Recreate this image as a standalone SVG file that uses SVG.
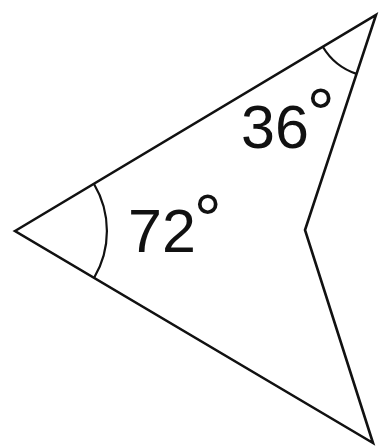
<svg xmlns="http://www.w3.org/2000/svg" width="379" height="448" viewBox="0 0 379 448">
<style>
.edge{fill:none;stroke:#111;stroke-width:2.6;stroke-linejoin:miter}
.arc{fill:none;stroke:#111;stroke-width:2.2}
.lbl{font-family:"Liberation Sans",Arial,sans-serif;font-size:61px;fill:#111}
.deg{font-size:70px}
</style>
<rect width="379" height="448" fill="#fff"/>
<g id="connectors">
<path class="edge" d="M15,231 L376,15 L305,230 L373,443 Z"/>
</g>
<g id="angle-left">
<path class="arc" d="M94,184 A92,92 0 0 1 94,278"/>
<text class="lbl" x="128" y="252">72<tspan class="deg" dx="-2" dy="-8">°</tspan></text>
</g>
<g id="angle-top">
<path class="arc" d="M322.8,46.8 A62,62 0 0 0 356.5,73.9"/>
<text class="lbl" x="241" y="148">36<tspan class="deg" dx="-2" dy="-10">°</tspan></text>
</g>
</svg>
